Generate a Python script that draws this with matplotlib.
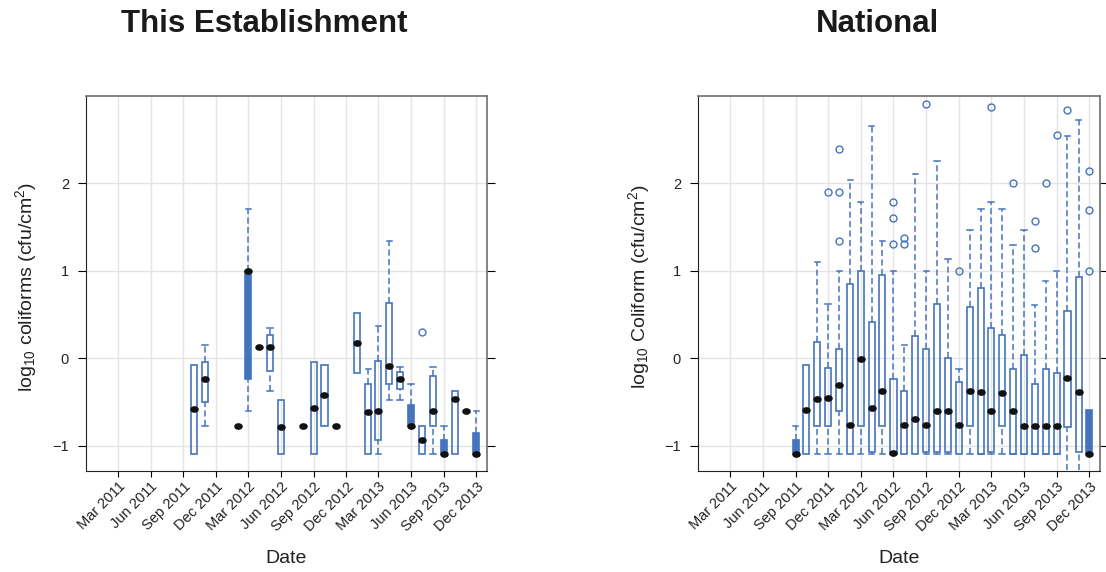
import numpy as np
import pandas as pd
import matplotlib
matplotlib.use('Agg')
import matplotlib.pyplot as plt
import matplotlib.dates as mdates
from matplotlib.markers import MarkerStyle
from matplotlib.transforms import Affine2D
from matplotlib.patches import Rectangle

plt.rcParams['font.family'] = ['Liberation Sans', 'DejaVu Sans']
plt.rcParams['mathtext.default'] = 'regular'

# ---- data (log10 cfu/cm2), one box per month ----
tick_months = ['2011-03', '2011-06', '2011-09', '2011-12', '2012-03', '2012-06',
               '2012-09', '2012-12', '2013-03', '2013-06', '2013-09', '2013-12']
tick_labels = ['Mar 2011', 'Jun 2011', 'Sep 2011', 'Dec 2011', 'Mar 2012', 'Jun 2012',
               'Sep 2012', 'Dec 2012', 'Mar 2013', 'Jun 2013', 'Sep 2013', 'Dec 2013']

est_months = ['2011-10', '2011-11', '2012-02', '2012-03', '2012-04', '2012-05', '2012-06',
              '2012-08', '2012-09', '2012-10', '2012-11', '2013-01', '2013-02', '2013-03',
              '2013-04', '2013-05', '2013-06', '2013-07', '2013-08', '2013-09', '2013-10',
              '2013-11', '2013-12']
est_lo = [-1.10, -0.77, -0.78, -0.60, 0.13, -0.37, -1.10, -0.78, -1.10, -0.77, -0.78, -0.17,
          -1.10, -1.10, -0.48, -0.48, -0.77, -1.10, -1.10, -1.10, -1.10, -0.60, -1.10]
est_q1 = [-1.10, -0.50, -0.78, -0.24, 0.13, -0.15, -1.10, -0.78, -1.10, -0.77, -0.78, -0.17,
          -1.10, -0.93, -0.29, -0.35, -0.77, -1.10, -0.77, -1.10, -1.10, -0.60, -1.10]
est_med = [-0.58, -0.24, -0.78, 1.00, 0.13, 0.13, -0.79, -0.78, -0.57, -0.42, -0.78, 0.17,
           -0.61, -0.60, -0.09, -0.24, -0.77, -0.93, -0.60, -1.10, -0.47, -0.60, -1.10]
est_q3 = [-0.08, -0.04, -0.78, 1.00, 0.13, 0.26, -0.48, -0.78, -0.04, -0.08, -0.78, 0.52,
          -0.30, -0.03, 0.63, -0.16, -0.53, -0.77, -0.20, -0.93, -0.37, -0.60, -0.85]
est_hi = [-0.08, 0.15, -0.78, 1.70, 0.13, 0.34, -0.48, -0.78, -0.04, -0.08, -0.78, 0.52,
          -0.12, 0.37, 1.34, -0.10, -0.30, -0.77, -0.10, -0.77, -0.37, -0.60, -0.60]
est_out_months = ['2013-07']
est_out_vals = [0.30]

nat_months = ['2011-09', '2011-10', '2011-11', '2011-12', '2012-01', '2012-02', '2012-03',
              '2012-04', '2012-05', '2012-06', '2012-07', '2012-08', '2012-09', '2012-10',
              '2012-11', '2012-12', '2013-01', '2013-02', '2013-03', '2013-04', '2013-05',
              '2013-06', '2013-07', '2013-08', '2013-09', '2013-10', '2013-11', '2013-12']
nat_lo = [-1.10, -1.10, -1.10, -1.10, -1.10, -1.10, -1.10, -1.10, -1.10, -1.10, -1.10, -1.10,
          -1.10, -1.10, -1.10, -1.10, -1.10, -1.10, -1.10, -1.10, -1.10, -1.10, -1.10, -1.10,
          -1.10, -1.50, -1.50, -1.09]
nat_q1 = [-1.10, -1.10, -0.77, -0.77, -0.60, -1.10, -0.77, -1.07, -0.78, -1.10, -1.10, -1.10,
          -1.07, -1.07, -1.07, -1.10, -0.77, -1.09, -1.07, -0.78, -1.09, -1.09, -1.09, -1.09,
          -1.09, -0.79, -1.07, -1.09]
nat_med = [-1.10, -0.59, -0.47, -0.46, -0.31, -0.76, -0.01, -0.57, -0.37, -1.08, -0.76, -0.69,
           -0.76, -0.60, -0.60, -0.76, -0.38, -0.39, -0.60, -0.40, -0.60, -0.77, -0.77, -0.77,
           -0.77, -0.23, -0.39, -1.09]
nat_q3 = [-0.93, -0.08, 0.18, -0.11, 0.10, 0.85, 1.00, 0.41, 0.95, -0.24, -0.38, 0.25,
          0.11, 0.62, 0.00, -0.27, 0.58, 0.80, 0.34, 0.27, -0.12, 0.04, -0.30, -0.12,
          -0.17, 0.54, 0.93, -0.59]
nat_hi = [-0.77, -0.08, 1.10, 0.62, 1.00, 2.04, 1.78, 2.65, 1.34, 1.00, 0.15, 2.11,
          1.00, 2.25, 1.13, -0.12, 1.47, 1.70, 1.78, 1.70, 1.29, 1.47, 0.61, 0.88,
          1.00, 2.54, 2.72, -0.59]
nat_out_months = ['2011-12', '2012-01', '2012-01', '2012-01', '2012-06', '2012-06', '2012-06',
                  '2012-07', '2012-07', '2012-09', '2012-12', '2013-03', '2013-05', '2013-07',
                  '2013-07', '2013-08', '2013-09', '2013-10', '2013-12', '2013-12', '2013-12']
nat_out_vals = [1.90, 2.39, 1.90, 1.34, 1.78, 1.60, 1.31, 1.37, 1.30, 2.91, 1.00, 2.87, 2.00,
                1.57, 1.26, 2.00, 2.55, 2.84, 2.14, 1.69, 1.00]

blue = '#4574bd'
box_w = 17   # days
cap_w = 15
dot = MarkerStyle('o', transform=Affine2D().scale(1.35, 1.0))


def to_x(months):
    return mdates.date2num(pd.to_datetime(months))


def draw_panel(ax, months, lo, q1, med, q3, hi, out_months, out_vals):
    xs = to_x(months)
    for x, a, b, m, c, d in zip(xs, lo, q1, med, q3, hi):
        filled = (m == b or m == c) and c > b
        ax.add_patch(Rectangle((x - box_w / 2, b), box_w, c - b, fill=filled,
                               fc=blue, ec=blue, lw=1.2, zorder=3))
        if d > c:
            ax.plot([x, x], [c, d], color=blue, lw=1.1, ls=(0, (4, 2.2)), zorder=3)
            ax.plot([x - cap_w / 2, x + cap_w / 2], [d, d], color=blue, lw=1.1, zorder=3)
        if a < b:
            ax.plot([x, x], [a, b], color=blue, lw=1.1, ls=(0, (4, 2.2)), zorder=3)
            ax.plot([x - cap_w / 2, x + cap_w / 2], [a, a], color=blue, lw=1.1, zorder=3)
    ax.plot(xs, med, ls='none', marker=dot, ms=3.8, color='#111111', zorder=4)
    ax.plot(to_x(out_months), out_vals, ls='none', marker='o', ms=5.0, mfc='none',
            mec=blue, mew=1.0, zorder=4)

    ax.set_xlim(to_x(['2010-12-01'])[0], to_x(['2013-12-31'])[0])
    ax.set_ylim(-1.29, 3.0)
    ax.set_yticks([-1, 0, 1, 2])
    ax.set_xticks(to_x(tick_months))
    ax.set_xticklabels(tick_labels, rotation=45, ha='right', va='top',
                       rotation_mode='anchor', fontsize=10.5, color='#222222')
    ax.tick_params(axis='y', left=True, right=True, labelright=False, length=6,
                   width=0.8, labelsize=10.5, labelcolor='#222222', pad=6)
    ax.tick_params(axis='x', length=4, width=0.8, pad=2)
    ax.grid(color='#e4e4e4', lw=1)
    ax.set_axisbelow(True)
    for s in ['left', 'bottom']:
        ax.spines[s].set_color('#222222')
    for s in ['top', 'right']:
        ax.spines[s].set_color('#6e6e6e')
        ax.spines[s].set_linewidth(1.2)


fig = plt.figure(figsize=(11.06, 5.72), dpi=100)
ax1 = fig.add_axes([85.7 / 1106, 101 / 572, 401.3 / 1106, 375.3 / 572])
ax2 = fig.add_axes([697.7 / 1106, 101 / 572, 402.3 / 1106, 375.3 / 572])

draw_panel(ax1, est_months, est_lo, est_q1, est_med, est_q3, est_hi,
           est_out_months, est_out_vals)
draw_panel(ax2, nat_months, nat_lo, nat_q1, nat_med, nat_q3, nat_hi,
           nat_out_months, nat_out_vals)

fig.text(264 / 1106, 1 - 32 / 572, 'This Establishment', ha='center', va='baseline',
         fontsize=22.5, fontweight='bold', color='#1a1a1a')
fig.text(878 / 1106, 1 - 32 / 572, 'National', ha='center', va='baseline',
         fontsize=22.5, fontweight='bold', color='#1a1a1a')

fig.text(286 / 1106, 9 / 572, 'Date', ha='center', va='baseline', fontsize=14, color='#222222')
fig.text(899 / 1106, 9 / 572, 'Date', ha='center', va='baseline', fontsize=14, color='#222222')

fig.text(26 / 1106, 1 - 287 / 572, r'log$_{10}$ coliforms (cfu/cm$^{2}$)', rotation=90,
         ha='center', va='center', fontsize=14, color='#222222')
fig.text(639 / 1106, 1 - 287 / 572, r'log$_{10}$ Coliform (cfu/cm$^{2}$)', rotation=90,
         ha='center', va='center', fontsize=14, color='#222222')

fig.savefig('out.png', dpi=100)
